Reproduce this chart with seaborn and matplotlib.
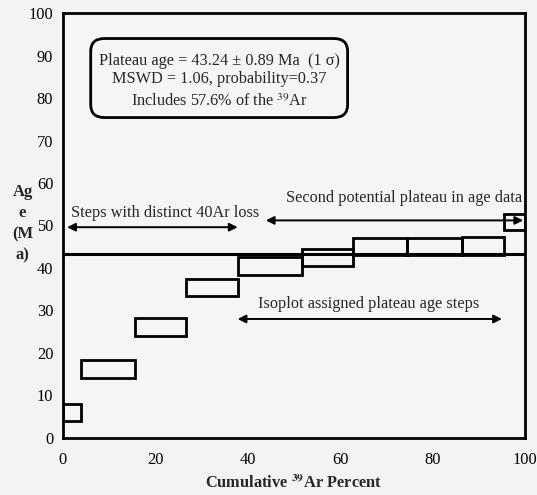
import matplotlib
matplotlib.use("Agg")
import matplotlib.pyplot as plt
from matplotlib.patches import FancyBboxPatch
import numpy as np
import seaborn as sns

# Step-heating data: cumulative 39Ar release interval and apparent age (±1σ)
step_start = [0.0, 3.8, 15.6, 26.7, 37.9, 51.7, 62.8, 74.5, 86.4, 95.5]
step_end = [3.8, 15.6, 26.7, 37.9, 51.7, 62.8, 74.5, 86.4, 95.5, 100.0]
step_age = [6.0, 16.2, 26.1, 35.5, 40.4, 42.5, 45.0, 45.0, 45.1, 50.8]
step_err = [2.0, 2.1, 2.1, 2.0, 2.1, 2.0, 1.95, 1.95, 2.1, 1.8]

plateau_age = 43.24
x_ticks = [0, 20, 40, 60, 80, 100]
y_ticks = [0, 10, 20, 30, 40, 50, 60, 70, 80, 90, 100]

sns.set_style("white")
plt.rcParams["font.family"] = ["Liberation Serif", "DejaVu Serif"]
plt.rcParams["mathtext.fontset"] = "stix"

fig = plt.figure(figsize=(5.37, 4.95), dpi=100)
fig.patch.set_facecolor("#f3f3f3")
ax = fig.add_axes([0.1173, 0.1152, 0.8604, 0.8585])
ax.set_facecolor("#f5f5f5")

# Age boxes for each heating step
widths = np.array(step_end) - np.array(step_start)
bottoms = np.array(step_age) - np.array(step_err)
heights = 2 * np.array(step_err)
ax.bar(step_start, heights, width=widths, bottom=bottoms, align="edge",
       fill=False, edgecolor="black", linewidth=2.0, zorder=3)

# Plateau age line
sns.lineplot(x=[0, 100], y=[plateau_age, plateau_age], color="black",
             linewidth=2.2, ax=ax, zorder=4)

ax.set_xlim(0, 100)
ax.set_ylim(0, 100)
ax.set_xticks(x_ticks)
ax.set_yticks(y_ticks)
ax.set_xticks(np.arange(10, 100, 20), minor=True)
ax.set_yticks(np.arange(5, 100, 10), minor=True)
ax.tick_params(which="major", direction="inout", length=8, width=1.6,
               labelsize=11.8, colors="black", pad=3)
ax.tick_params(which="minor", direction="in", length=4, width=1.4)
ax.tick_params(axis="x", pad=6)
for s in ax.spines.values():
    s.set_linewidth(2.0)
    s.set_color("black")

ax.set_xlabel(r"Cumulative $^{\mathbf{39}}$Ar Percent", fontsize=11.8,
              fontweight="bold", labelpad=5)
fig.text(0.042, 0.548, "Ag\ne\n(M\na)", fontsize=12, fontweight="bold",
         ha="center", va="center", linespacing=1.45)

# Summary box
box = FancyBboxPatch((6.0, 75.4), 55.6, 18.6, boxstyle="round,pad=0,rounding_size=3",
                     transform=ax.transData, fill=False, edgecolor="black",
                     linewidth=2.0, zorder=5)
ax.add_patch(box)
fs = 11.7
ax.text(33.8, 88.7, "Plateau age = 43.24 ± 0.89 Ma  (1 σ)", ha="center",
        va="center", fontsize=fs)
ax.text(33.8, 84.4, "MSWD = 1.06, probability=0.37", ha="center", va="center",
        fontsize=fs)
ax.text(33.8, 79.2, r"Includes 57.6% of the $^{39}$Ar", ha="center",
        va="center", fontsize=fs)

# Annotated step ranges
arrow_kw = dict(arrowstyle="<|-|>", color="black", lw=1.4,
                mutation_scale=12, shrinkA=0, shrinkB=0)
ax.annotate("", xy=(0.9, 49.6), xytext=(37.8, 49.6), arrowprops=arrow_kw)
ax.text(1.8, 53.0, "Steps with distinct 40Ar loss", ha="left", va="center",
        fontsize=fs)
ax.annotate("", xy=(43.9, 51.2), xytext=(99.6, 51.2), arrowprops=arrow_kw)
ax.text(99.3, 56.4, "Second potential plateau in age data", ha="right",
        va="center", fontsize=fs)
ax.annotate("", xy=(37.8, 28.0), xytext=(95.0, 28.0), arrowprops=arrow_kw)
ax.text(66.2, 31.6, "Isoplot assigned plateau age steps", ha="center",
        va="center", fontsize=fs)

fig.savefig("out.png", dpi=100, facecolor=fig.get_facecolor())
